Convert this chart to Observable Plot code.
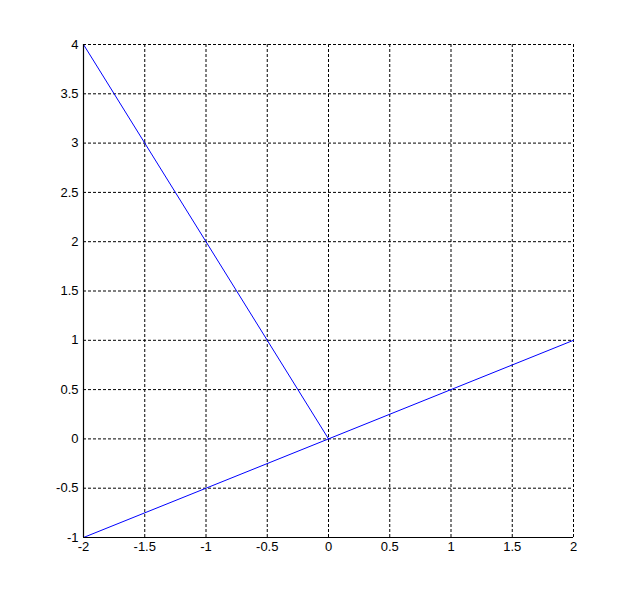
<!DOCTYPE html>
<html>
<head>
<meta charset="utf-8">
<script src="https://cdn.jsdelivr.net/npm/d3@7"></script>
<script src="https://cdn.jsdelivr.net/npm/@observablehq/plot@0.6"></script>
<style>
  body { margin: 0; background: #fff; }
  #chart svg { display: block; }
</style>
</head>
<body>
<div id="chart"></div>
<script>
const seriesA_x = [-2, 0];
const seriesA_y = [4, 0];
const seriesB_x = [-2, 2];
const seriesB_y = [-1, 1];
const xTicks = [-2, -1.5, -1, -0.5, 0, 0.5, 1, 1.5, 2];
const yTicks = [-1, -0.5, 0, 0.5, 1, 1.5, 2, 2.5, 3, 3.5, 4];

const data = [
  ...seriesA_x.map((x, i) => ({series: "A", x, y: seriesA_y[i]})),
  ...seriesB_x.map((x, i) => ({series: "B", x, y: seriesB_y[i]}))
];

const chart = Plot.plot({
  width: 633,
  height: 603,
  marginLeft: 83,
  marginRight: 60,
  marginTop: 44,
  marginBottom: 66,
  style: {fontFamily: "Liberation Sans, Arial, sans-serif", fontSize: "13px", background: "#fff", color: "#000"},
  x: {domain: [-2, 2], ticks: xTicks, tickFormat: d => String(d)},
  y: {domain: [-1, 4], ticks: yTicks, tickFormat: d => String(d)},
  marks: [
    Plot.ruleX(xTicks, {stroke: "#000", strokeDasharray: "3,2", strokeWidth: 1}),
    Plot.ruleY(yTicks, {stroke: "#000", strokeDasharray: "3,2", strokeWidth: 1}),
    Plot.axisX({ticks: xTicks, tickSize: 0, tickPadding: 4, tickFormat: d => String(d), fontSize: 13, label: null}),
    Plot.axisY({ticks: yTicks, tickSize: 0, tickPadding: 5, tickFormat: d => String(d), fontSize: 13, label: null}),
    Plot.lineY(data, {x: "x", y: "y", z: "series", stroke: "#0000ff", strokeWidth: 1}),
    Plot.ruleX([-2], {stroke: "#000", strokeWidth: 1.2}),
    Plot.ruleY([-1], {stroke: "#000", strokeWidth: 1.2})
  ]
});
document.getElementById("chart").appendChild(chart);
</script>
</body>
</html>
